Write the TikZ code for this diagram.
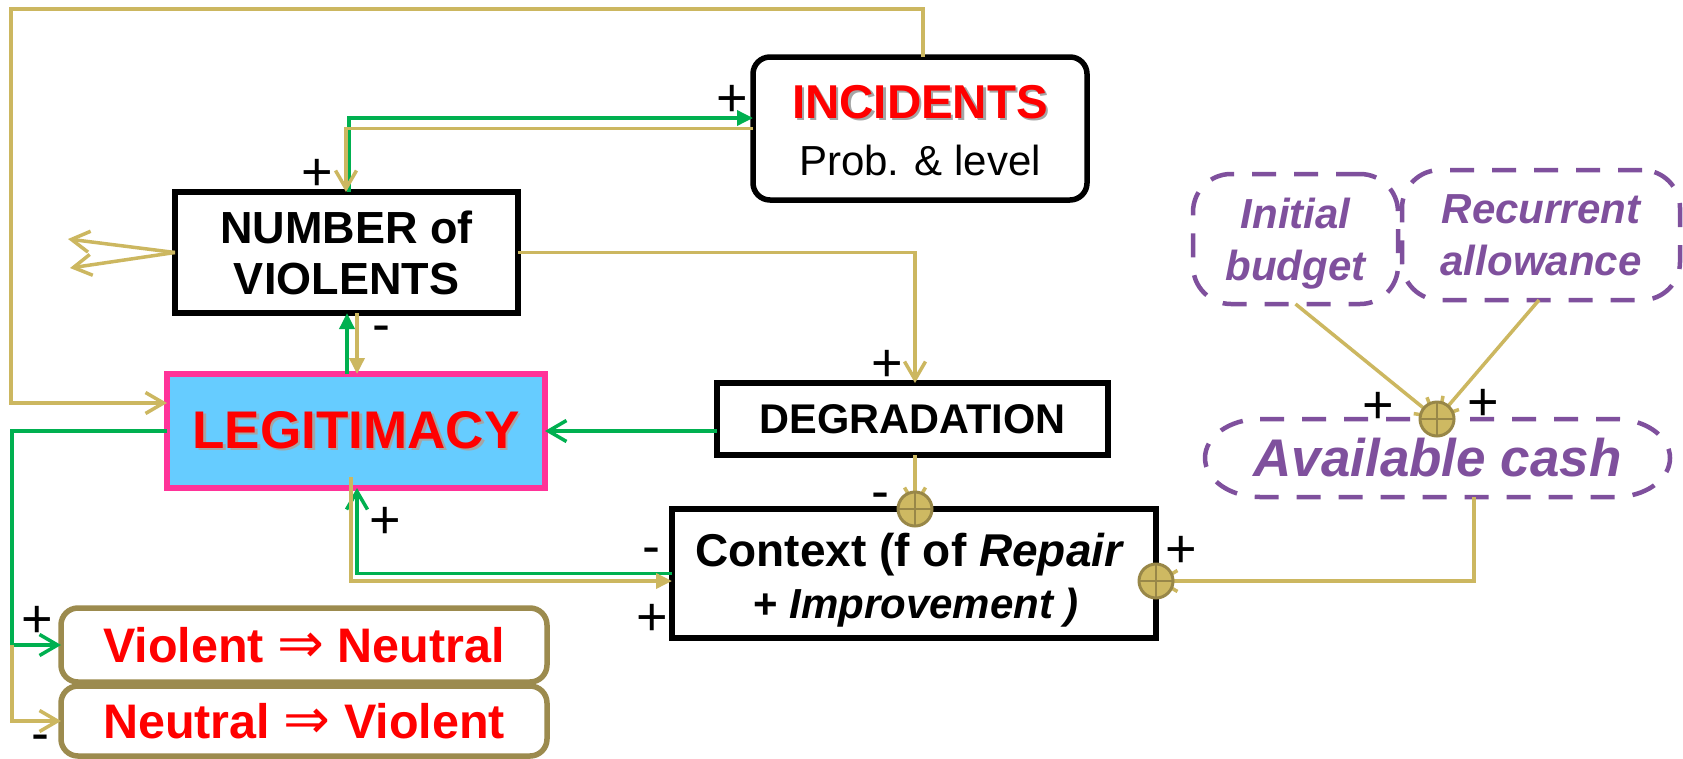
\documentclass[tikz,border=0pt]{standalone}
\usepackage{fontspec}
\setmainfont{Liberation Sans}
\newfontfamily\arrowfont{DejaVu Sans}
\usetikzlibrary{arrows.meta,calc}
\pgfdeclarelayer{front}
\pgfsetlayers{main,front}
\definecolor{tanl}{RGB}{204,183,96}
\definecolor{grn}{RGB}{0,176,80}
\definecolor{pinkb}{RGB}{255,51,153}
\definecolor{skyf}{RGB}{102,204,255}
\definecolor{redt}{RGB}{255,0,0}
\definecolor{purp}{RGB}{127,80,157}
\definecolor{olivec}{RGB}{156,139,78}
\definecolor{dotfill}{RGB}{206,185,98}
\definecolor{dotdraw}{RGB}{152,135,72}
\definecolor{shadowc}{RGB}{165,165,165}
\newcommand\mytxtshadow[1]{\makebox[0pt][l]{\hspace{2.5pt}\raisebox{-2.5pt}{\textcolor{shadowc}{#1}}}#1}
\begin{document}
\begin{tikzpicture}[x=1pt,y=-1pt,
  box/.style={draw=black, line width=5.5pt, fill=white, inner sep=0pt, outer sep=0pt, align=center},
  olivebox/.style={draw=olivec, line width=5.5pt, fill=white, rounded corners=17pt, inner sep=0pt, outer sep=0pt, text=redt, font=\bfseries\fontsize{48.5}{56}\selectfont},
  tanw/.style={draw=tanl, line width=3.5pt},
  grnw/.style={draw=grn, line width=3.5pt},
  vtip/.style={-{Straight Barb[length=18pt,width=21pt]}},
  ftip/.style={-{Triangle[length=16pt,width=15pt]}},
  sign/.style={inner sep=0pt, outer sep=0pt, font=\fontsize{54}{58}\selectfont},
  sumdot/.style={circle, minimum size=34pt, inner sep=0pt, outer sep=0pt, fill=dotfill, draw=dotdraw, line width=3pt},
  budgetbox/.style={draw=purp, line width=4.5pt, dash pattern=on 24pt off 18pt, rounded corners=38pt, inner sep=0pt, outer sep=0pt, align=center, text=purp, text depth=0pt, font=\bfseries\itshape\fontsize{42}{52}\selectfont},
  lbl/.style={inner sep=0pt, outer sep=0pt}
]
\fill[white] (0,0) rectangle (1683,758);
\useasboundingbox (0,0) rectangle (1683,758);

% nodes
\node[box, minimum width=343pt, minimum height=121pt, font=\bfseries\fontsize{45}{51}\selectfont] (num) at (346.5,252.5) {NUMBER of\\VIOLENTS};
\node[box, rounded corners=17pt, minimum width=334pt, minimum height=143pt] (inc) at (920,128.5) {};
\node[lbl, text=redt, font=\bfseries\fontsize{47.5}{56}\selectfont] (inct) at (920,103) {\mytxtshadow{INCIDENTS}};
\node[lbl, font=\fontsize{42}{50}\selectfont] (incs) at (920,160) {Prob. \& level};
\node[draw=pinkb, fill=skyf, line width=5.5pt, minimum width=378pt, minimum height=114pt, inner sep=0pt, outer sep=0pt, text=redt, font=\bfseries\fontsize{53}{60}\selectfont] (leg) at (356,431) {\mytxtshadow{LEGITIMACY}};
\node[box, minimum width=391pt, minimum height=72pt, font=\bfseries\fontsize{41.5}{48}\selectfont] (deg) at (912.5,419) {DEGRADATION};
\node[box, minimum width=484pt, minimum height=129pt] (ctx) at (914,573.5) {};
\node[lbl, anchor=base, font=\bfseries\fontsize{46}{54}\selectfont] (ctxa) at (910,566.5) {Context (f of \textit{Repair}};
\node[lbl, anchor=base, font=\bfseries\fontsize{42}{50}\selectfont] (ctxb) at (916,618) {+ \textit{Improvement )}};
\node[olivebox, minimum width=486pt, minimum height=74pt] (vn) at (304,645) {Violent {\arrowfont\mdseries\fontsize{56}{56}\selectfont ⇒} Neutral};
\node[olivebox, minimum width=486pt, minimum height=70pt] (nv) at (304,721) {Neutral {\arrowfont\mdseries\fontsize{56}{56}\selectfont ⇒} Violent};
\node[budgetbox, minimum width=205pt, minimum height=130pt] (ib) at (1295.5,239) {Initial\\budget};
\node[budgetbox, minimum width=278pt, minimum height=130pt] (ra) at (1541,235) {Recurrent\\allowance};
\node[lbl, minimum width=465pt, minimum height=78pt, text=purp, font=\bfseries\itshape\fontsize{53}{60}\selectfont] (ac) at (1437.5,458) {Available cash};
\draw[purp, line width=4.5pt, dash pattern=on 24pt off 18pt]
  ([xshift=55pt]ac.north west) -- ([xshift=-55pt]ac.north east)
  arc[start angle=90, end angle=-90, x radius=55pt, y radius=39pt]
  -- ([xshift=55pt]ac.south west)
  arc[start angle=270, end angle=90, x radius=55pt, y radius=39pt] -- cycle;

% summing junctions (front layer)
\begin{pgfonlayer}{front}
\node[sumdot] (d1) at (915,509) {};
\node[sumdot] (d2) at (1156,581) {};
\node[sumdot] (d3) at (1437,419) {};
\foreach \d in {d1,d2,d3}{\draw[dotdraw, line width=2.5pt] (\d.north) -- (\d.south) (\d.west) -- (\d.east);}
\end{pgfonlayer}

% free coordinates
\coordinate (tl) at (11,9);
\coordinate (dA) at (68,239);
\coordinate (dB) at (70,268);
\coordinate (gc) at (12,645);

% connectors
\draw[grnw, ftip] ([xshift=2.5pt]num.north) |- ([yshift=10.5pt]inc.west);
\draw[tanw, vtip] (inc.west) -| ([xshift=-0.5pt]num.north);
\draw[tanw, vtip] ([xshift=3pt]inc.north) |- (tl) |- ([yshift=28pt]leg.west);
\draw[tanw, vtip] (num.west) -- (dA);
\draw[tanw, vtip] (num.west) -- (dB);
\draw[tanw, vtip] (num.east) -| ([xshift=2.5pt]deg.north);
\draw[grnw, ftip] ([xshift=-9pt]leg.north) -- ([xshift=-9pt]leg.north |- num.south);
\draw[tanw, ftip] ([xshift=10.5pt]num.south) -- ([xshift=10.5pt]num.south |- leg.north);
\draw[grnw, vtip] ([yshift=-12pt]deg.west) -- ([yshift=-12pt]deg.west -| leg.east);
\draw[grnw, vtip] (leg.west) -| (gc) -- (vn.west);
\draw[tanw, vtip] (gc) |- (nv.west);
\draw[tanw, vtip] (d1 |- deg.south) -- (d1.center);
\draw[grnw, vtip] (ctx.west) -| ([xshift=1pt]leg.south);
\draw[tanw, ftip] ([xshift=-5pt,yshift=11pt]leg.south) |- ([yshift=-7.5pt]ctx.west);
\draw[tanw, vtip] ([xshift=36.5pt]ac.south) |- (d2.center);
\draw[tanw, vtip] (ib.south) -- (d3.center);
\draw[tanw, vtip] ([xshift=-2pt]ra.south) -- (d3.center);

% signs
\node[sign] (s1) at (317,175) {+};
\node[sign] (s2) at (732,101) {+};
\node[sign] (s3) at (381,334) {-};
\node[sign] (s4) at (887,366) {+};
\node[sign] (s5) at (385,523) {+};
\node[sign] (s6) at (880,501) {-};
\node[sign] (s7) at (651,556) {-};
\node[sign] (s8) at (652,620) {+};
\node[sign] (s9) at (1181,552) {+};
\node[sign] (s10) at (37,622) {+};
\node[sign] (s11) at (40,743) {-};
\node[sign] (s12) at (1378,408) {+};
\node[sign] (s13) at (1483,405) {+};
\end{tikzpicture}
\end{document}
